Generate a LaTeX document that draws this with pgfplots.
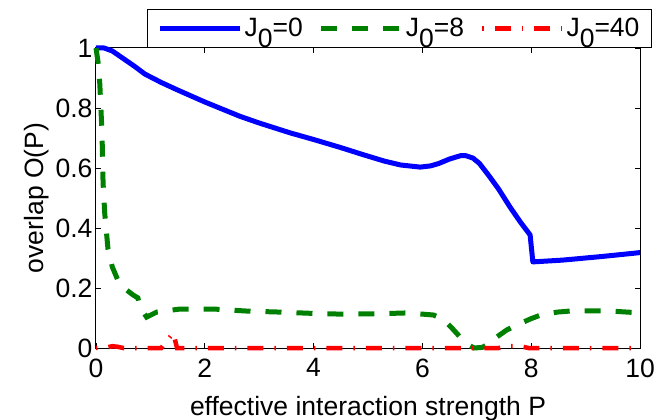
\documentclass[border=0pt]{standalone}
\usepackage{fontspec}
\setmainfont{Liberation Sans}
\usepackage{pgfplots}
\pgfplotsset{compat=1.18}
\newcommand{\bigf}{\fontsize{26.5bp}{31bp}\selectfont}
\definecolor{mblue}{RGB}{0,0,255}
\definecolor{mgreen}{RGB}{0,128,0}
\definecolor{mred}{RGB}{255,0,0}
\begin{document}
\begin{tikzpicture}
\begin{axis}[
  scale only axis, width=544bp, height=300bp,
  xmin=0, xmax=10, ymin=0, ymax=1,
  xtick={0,2,4,6,8,10}, ytick={0,0.2,0.4,0.6,0.8,1},
  tick align=inside, xtick pos=both, ytick pos=both,
  major tick length=5bp,
  every tick/.style={black, line width=0.8bp},
  axis line style={line width=1bp},
  /pgf/number format/assume math mode=true,
  tick label style={font=\bigf},
  xticklabel style={yshift=-7bp},
  label style={font=\bigf},
  xlabel={effective interaction strength P},
  xlabel style={at={(axis description cs:0.5,0)}, anchor=base, yshift=-67bp},
  ylabel={overlap O(P)},
  clip=false,
  legend columns=3,
  legend style={at={(1.022,1.13)}, anchor=north east, font=\bigf, draw=black, line width=1bp,
    inner xsep=10bp, inner ysep=7bp,
    /tikz/every even column/.append style={column sep=14bp}},
  legend image code/.code={\draw[#1] (0bp,0bp) -- (80bp,0bp);},
]
\addplot[mblue, line width=5bp, line join=round] coordinates {
(0,1) (0.15,1.0) (0.3,0.99) (0.5,0.965) (0.7,0.94) (0.84,0.921) (0.9,0.913) (1.2,0.885)
(1.5,0.86) (2.0,0.82) (2.65,0.772) (3.0,0.75) (3.57,0.717) (4.0,0.695) (4.5,0.668)
(4.9,0.645) (5.3,0.623) (5.6,0.61) (5.96,0.603) (6.15,0.607) (6.3,0.615) (6.5,0.63)
(6.7,0.641) (6.8,0.641) (6.93,0.633) (7.05,0.615) (7.24,0.57) (7.4,0.53) (7.61,0.47)
(7.8,0.42) (7.98,0.377) (8.03,0.287) (8.58,0.293) (9.3,0.305) (10,0.318)
};
\addlegendentry{J\raisebox{-11bp}{0}=0}
\addplot[mgreen, line width=5bp, dash pattern=on 16bp off 15bp] coordinates {
(0,1) (0.04,0.95) (0.07,0.88) (0.11,0.72) (0.13,0.55) (0.16,0.45) (0.22,0.33) (0.3,0.27)
(0.4,0.227) (0.55,0.195) (0.68,0.177) (0.77,0.167) (0.8,0.14) (0.93,0.103) (1.12,0.12)
(1.55,0.13) (2.15,0.13) (2.78,0.123) (3.33,0.12) (4.17,0.114) (4.54,0.113) (5.2,0.114)
(5.72,0.117) (6.2,0.11) (6.38,0.097) (6.55,0.065) (6.69,0.037) (6.85,0.01) (6.95,0)
(7.1,0.002) (7.2,0.012) (7.37,0.037) (7.55,0.06) (7.74,0.077) (8.0,0.098) (8.22,0.113)
(8.5,0.12) (8.77,0.124) (9.39,0.124) (10,0.117)
};
\addlegendentry{J\raisebox{-11bp}{0}=8}
\addplot[mred, line width=4.5bp, dash pattern=on 1.5bp off 11bp on 16bp off 11bp] coordinates {
(0,0) (0.2,0.002) (0.3,0.006) (0.4,0.004) (0.5,0) (1.2,0) (1.27,0.017) (1.42,0.05)
(1.49,0) (7.4,0) (7.6,0.006) (7.8,0.006) (7.95,0) (10,0)
};
\addlegendentry{J\raisebox{-11bp}{0}=40}
\end{axis}
\pgfresetboundingbox
\path (-96bp,-72bp) rectangle (572bp,348bp);
\end{tikzpicture}
\end{document}
